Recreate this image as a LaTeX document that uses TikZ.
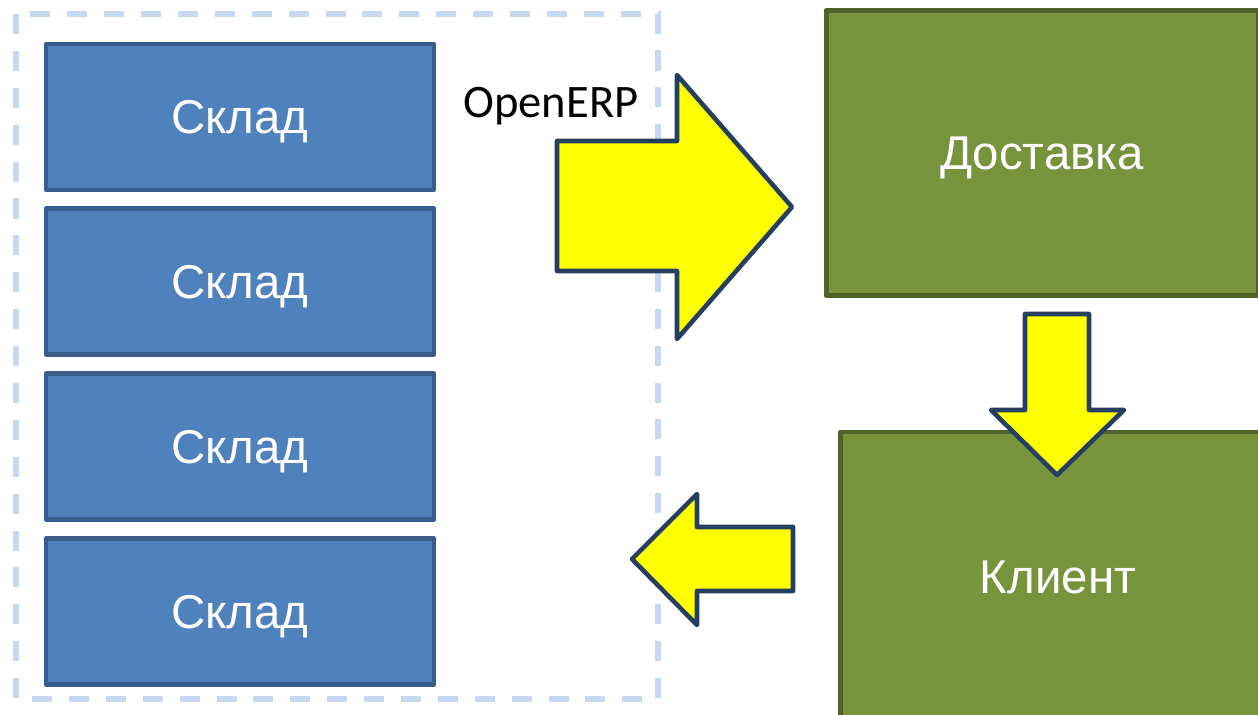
\documentclass[tikz,border=0pt]{standalone}
\usepackage{fontspec}
\setmainfont{Liberation Sans}
\newfontfamily\calfont{Carlito}
\definecolor{storeblue}{HTML}{4F81BD}
\definecolor{storeline}{HTML}{385D8A}
\definecolor{boxgreen}{HTML}{77933C}
\definecolor{greenline}{HTML}{4F6228}
\definecolor{arrowline}{HTML}{243F60}
\definecolor{arrowfill}{HTML}{FFFF00}
\definecolor{frameblue}{HTML}{C6D9F1}
\begin{document}
\begin{tikzpicture}[
    x=0.02cm, y=-0.02cm,
    store/.style={rectangle, draw=storeline, fill=storeblue, line width=2.6pt,
        line join=round, minimum width=7.76cm, minimum height=2.92cm, inner sep=0pt,
        text depth=0pt, text=white, font=\fontsize{27}{32}\selectfont},
    greenbox/.style={rectangle, draw=greenline, fill=boxgreen, line width=2.8pt,
        line join=round, inner sep=0pt, text depth=0pt, text=white,
        font=\fontsize{27}{32}\selectfont},
    blockarrow/.style={draw=arrowline, fill=arrowfill, line width=2.6pt, line join=round},
    frame/.style={draw=frameblue, line width=3pt, dash pattern=on 11.4pt off 9.6pt}
]
\useasboundingbox (0,0) rectangle (1258,714);
% dashed frame round the stores
\draw[frame] (16,14) rectangle (658,699);
% stores
\node[store] (store1) at (240,117) {Склад};
\node[store] (store2) at (240,281.5) {Склад};
\node[store] (store3) at (240,446.5) {Склад};
\node[store] (store4) at (240,611.5) {Склад};
% delivery and client
\node[greenbox, minimum width=8.64cm, minimum height=5.7cm] (delivery) at (1042,153) {Доставка};
\node[greenbox, minimum width=8.72cm, minimum height=5.8cm] (client) at (1058,577) {Клиент};
\node[anchor=base, font=\calfont\fontsize{26.5}{30}\selectfont] (erp) at (551,117) {OpenERP};
% block arrows
\draw[blockarrow] (557,141) -- (677,141) -- (677,75) -- (792,207) -- (677,339)
    -- (677,271) -- (557,271) -- cycle;
\draw[blockarrow] (1025,314) -- (1089,314) -- (1089,410) -- (1124,410) -- (1057,475)
    -- (991,410) -- (1025,410) -- cycle;
\draw[blockarrow] (793,527) -- (697,527) -- (697,494) -- (632,559) -- (697,625)
    -- (697,591) -- (793,591) -- cycle;
\end{tikzpicture}
\end{document}
